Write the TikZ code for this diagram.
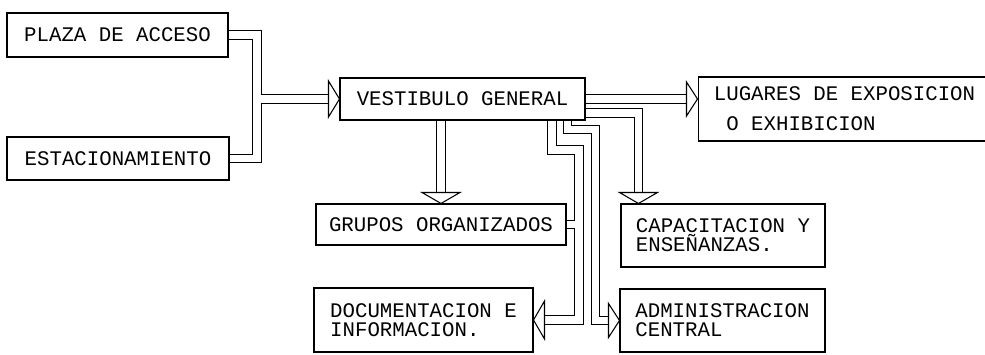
\documentclass[tikz,border=0pt]{standalone}
\usepackage{fontspec}
\newfontfamily\maquina{Liberation Mono}
\begin{document}
\begin{tikzpicture}[x=0.02cm, y=-0.02cm]

    % Styles
    \tikzstyle{boite} = [rectangle, draw=black, line width=0.6pt, inner sep=0pt, text centered, font=\maquina\fontsize{11.8}{11}\selectfont]
    \tikzstyle{boite2} = [boite, align=left]
    \tikzstyle{conduit} = [draw=black, line width=0.6pt, double=white, double distance=4.3pt]
    \tikzstyle{punta} = [draw=black, line width=0.6pt, fill=white]

    \useasboundingbox (0,0) rectangle (985,355);

    % Boites
    \node (plaza) [boite, minimum width=4.42cm, minimum height=0.88cm] at (117.5,35) {PLAZA DE ACCESO};
    \node (estac) [boite, minimum width=4.44cm, minimum height=0.86cm] at (118,158.5) {ESTACIONAMIENTO};
    \node (vest) [boite, minimum width=4.9cm, minimum height=0.84cm] at (462.5,99) {VESTIBULO GENERAL};
    \node (lug) [boite2, minimum width=5.86cm, minimum height=1.28cm] at (844.5,109) {LUGARES DE EXPOSICION\\[6pt]\phantom{O}O EXHIBICION};
    \node (gru) [boite, minimum width=5.0cm, minimum height=0.82cm] at (441,224.5) {GRUPOS ORGANIZADOS};
    \node (cap) [boite2, minimum width=4.08cm, minimum height=1.26cm] at (723,235.5) {CAPACITACION Y\\ENSEÑANZAS.};
    \node (doc) [boite2, minimum width=4.38cm, minimum height=1.28cm] at (423.5,320) {DOCUMENTACION E\\INFORMACION.};
    \node (adm) [boite2, minimum width=4.1cm, minimum height=1.26cm] at (722.5,320.5) {ADMINISTRACION\\CENTRAL};

    % Fleches
    \coordinate (j1) at (257,99);
    \draw [conduit] ([xshift=0.3pt]estac.east) -| (j1) ([xshift=0.3pt]plaza.east) -| (j1) -- ([xshift=-4pt]vest.west);
    \draw [punta] (vest.west) -- ++(-11,-18) -- ++(0,36) -- cycle;

    \coordinate (l1) at (lug.west |- vest.east);
    \draw [conduit] ([xshift=0.3pt]vest.east) -- ([xshift=-4pt]l1);
    \draw [punta] (l1) -- ++(-11,-17) -- ++(0,34) -- cycle;

    \coordinate (c1) at ([xshift=0.36cm]cap.north west);
    \draw [conduit] ([xshift=0.3pt,yshift=-8pt]vest.east) -| ([yshift=4pt]c1);
    \draw [punta] (c1) -- ++(-19,-11) -- ++(38,0) -- cycle;

    \draw [conduit] ([yshift=-0.3pt]gru.north |- vest.south) -- ([yshift=4pt]gru.north);
    \draw [punta] (gru.north) -- ++(-19,-11) -- ++(38,0) -- cycle;

    \coordinate (a1) at (579,150);
    \draw [conduit] ([xshift=0.3pt]gru.east) -- (gru.east -| a1) ([xshift=1.79cm,yshift=-0.3pt]vest.south) |- (a1) |- ([xshift=4pt]doc.east);
    \draw [punta] (doc.east) -- ++(11,-19) -- ++(0,38) -- cycle;

    \coordinate (b1) at (595.5,129.5);
    \draw [conduit] ([xshift=2.1cm,yshift=-0.3pt]vest.south) |- (b1) |- ([xshift=-4pt]adm.west);
    \draw [punta] (adm.west) -- ++(-11,-17) -- ++(0,34) -- cycle;

\end{tikzpicture}
\end{document}
